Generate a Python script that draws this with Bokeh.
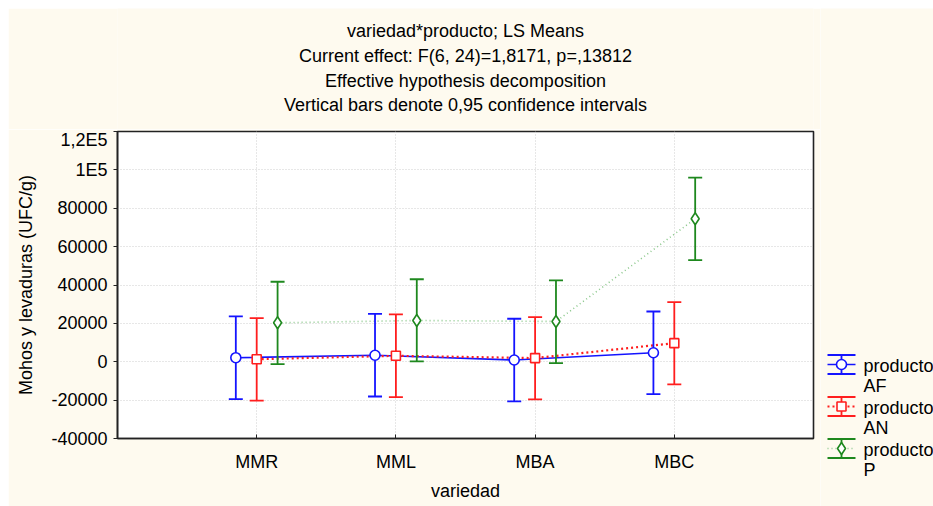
from bokeh.plotting import figure
from bokeh.models import Range1d, FixedTicker, ColumnDataSource
from bokeh.layouts import column, row
from bokeh.core.properties import value
from bokeh.embed import file_html
from bokeh.resources import INLINE

# ---- data -------------------------------------------------------------
variedades = ["MMR", "MML", "MBA", "MBC"]

af_mean = [2100, 3400, 900, 4700]
af_low = [-19500, -18100, -20700, -16900]
af_high = [23600, 25000, 22400, 26200]

an_mean = [1300, 3100, 1900, 9700]
an_low = [-20300, -18450, -19650, -11800]
an_high = [22700, 24650, 23250, 31060]

p_mean = [20300, 21500, 21000, 74500]
p_low = [-1250, 150, -700, 52950]
p_high = [41700, 43000, 42400, 96000]

y_ticks = [-40000, -20000, 0, 20000, 40000, 60000, 80000, 100000, 120000]
y_tick_labels = ["-40000", "-20000", "0", "20000", "40000", "60000", "80000", "1E5", "1,2E5"]

title_lines = [
    "variedad*producto; LS Means",
    "Current effect: F(6, 24)=1,8171, p=,13812",
    "Effective hypothesis decomposition",
    "Vertical bars denote 0,95 confidence intervals",
]

# ---- styling ------------------------------------------------------------
FONT = "Liberation Sans"
FS = "18px"
BG = "#FEFAEF"
BLUE = "#1414FF"
RED = "#FF1E1E"
GREEN = "#1E881E"
GREEN_LINE = "#8CC88C"

BORDER_L, BORDER_R = 109, 7

series = [
    dict(name="AF", mean=af_mean, low=af_low, high=af_high, color=BLUE, line_color=BLUE,
         dash="solid", lw=1.6, marker="circle", size=10, offset=-0.15),
    dict(name="AN", mean=an_mean, low=an_low, high=an_high, color=RED, line_color=RED,
         dash="2 3", lw=2.2, marker="square", size=9, offset=0.0),
    dict(name="P", mean=p_mean, low=p_low, high=p_high, color=GREEN, line_color=GREEN_LINE,
         dash="1 3", lw=1.6, marker="diamond", size=12, offset=0.15),
]

# ---- header with the four title lines ---------------------------------------
# its frame shares the main plot's left/right borders (page x 117..813)
header = figure(width=812, height=121, x_range=Range1d(117, 813), y_range=Range1d(129, 8),
                output_backend="svg", toolbar_location=None, min_border=0,
                min_border_left=BORDER_L, min_border_right=BORDER_R)
header.axis.visible = False
header.grid.visible = False
header.outline_line_color = None
header.background_fill_color = BG
header.border_fill_color = BG
header.text(x=[465] * 4, y=[30.5, 55.5, 80, 104.5], text=title_lines,
            text_align="center", text_baseline="middle",
            text_font=value(FONT), text_font_size=FS, text_color="black")

# ---- main plot ------------------------------------------------------------
p = figure(width=812, height=377, x_range=Range1d(0, 5), y_range=Range1d(-40000, 120000),
           output_backend="svg", toolbar_location=None,
           min_border_left=BORDER_L, min_border_right=BORDER_R, min_border_top=2, min_border_bottom=68)
p.background_fill_color = "white"
p.border_fill_color = BG
p.outline_line_color = "#222222"
p.outline_line_width = 1.6

xpos = list(range(1, len(variedades) + 1))

p.xaxis.ticker = FixedTicker(ticks=xpos)
p.xaxis.major_label_overrides = {x: v for x, v in zip(xpos, variedades)}
p.xaxis.axis_label = "variedad"
p.yaxis.ticker = FixedTicker(ticks=y_ticks)
p.yaxis.major_label_overrides = {t: s for t, s in zip(y_ticks, y_tick_labels)}
p.yaxis.axis_label = "Mohos y levaduras (UFC/g)"

for ax in (p.xaxis, p.yaxis):
    ax.axis_label_text_font = FONT
    ax.axis_label_text_font_size = FS
    ax.axis_label_text_font_style = "normal"
    ax.axis_label_text_color = "black"
    ax.major_label_text_font = FONT
    ax.major_label_text_font_size = FS
    ax.major_label_text_color = "black"
    ax.axis_line_color = "#222222"
    ax.axis_line_width = 1.6
    ax.major_tick_line_color = "#222222"
    ax.minor_tick_line_color = None

p.xaxis.major_tick_in = 4
p.xaxis.major_tick_out = 0
p.xaxis.major_label_standoff = 13
p.xaxis.axis_label_standoff = 6
p.yaxis.major_tick_in = 0
p.yaxis.major_tick_out = 4
p.yaxis.major_label_standoff = 6
p.yaxis.axis_label_standoff = 12

p.xgrid.ticker = FixedTicker(ticks=xpos)
p.grid.grid_line_color = "#CFCFCF"
p.grid.grid_line_dash = "1 2"
p.grid.grid_line_width = 1

# connecting lines
for s in series:
    xs = [x + s["offset"] for x in xpos]
    p.line(xs, s["mean"], line_color=s["line_color"], line_width=s["lw"], line_dash=s["dash"])

# confidence intervals
for s in series:
    xs = [x + s["offset"] for x in xpos]
    src = ColumnDataSource(dict(x=xs, low=s["low"], high=s["high"]))
    p.segment(x0="x", y0="low", x1="x", y1="high", source=src, line_color=s["color"], line_width=1.8)
    p.scatter(x="x", y="low", source=src, marker="dash", size=14, line_color=s["color"], line_width=1.8)
    p.scatter(x="x", y="high", source=src, marker="dash", size=14, line_color=s["color"], line_width=1.8)

# means
for s in series:
    xs = [x + s["offset"] for x in xpos]
    p.scatter(xs, s["mean"], marker=s["marker"], size=s["size"], fill_color="white",
              line_color=s["color"], line_width=1.6)

# ---- legend panel (full height, page-pixel coordinates) ----------------------
leg = figure(width=113, height=498, x_range=Range1d(820, 933), y_range=Range1d(506, 8),
             output_backend="svg", toolbar_location=None, min_border=0)
leg.axis.visible = False
leg.grid.visible = False
leg.outline_line_color = None
leg.background_fill_color = BG
leg.border_fill_color = BG

row_y = [364, 406, 448]
gx0, gx1, gxm = 827, 855, 841
for s, yc in zip(series, row_y):
    leg.segment(x0=[gx0, gx0], y0=[yc - 9.5, yc + 9.5], x1=[gx1, gx1], y1=[yc - 9.5, yc + 9.5],
                line_color=s["color"], line_width=1.8)
    leg.segment(x0=[gxm], y0=[yc - 9.5], x1=[gxm], y1=[yc + 9.5], line_color=s["color"], line_width=1.8)
    leg.line([gx0, gx1], [yc, yc], line_color=s["line_color"], line_width=s["lw"], line_dash=s["dash"])
    leg.scatter([gxm], [yc], marker=s["marker"], size=s["size"], fill_color="white",
                line_color=s["color"], line_width=1.6)
    leg.text(x=[863, 863], y=[yc + 1, yc + 21], text=["producto", s["name"]],
             text_align="left", text_baseline="middle",
             text_font=value(FONT), text_font_size=FS, text_color="black")

layout = row(column(header, p), leg, margin=(8, 0, 0, 8))
open("out.html", "w").write(file_html(layout, INLINE))
